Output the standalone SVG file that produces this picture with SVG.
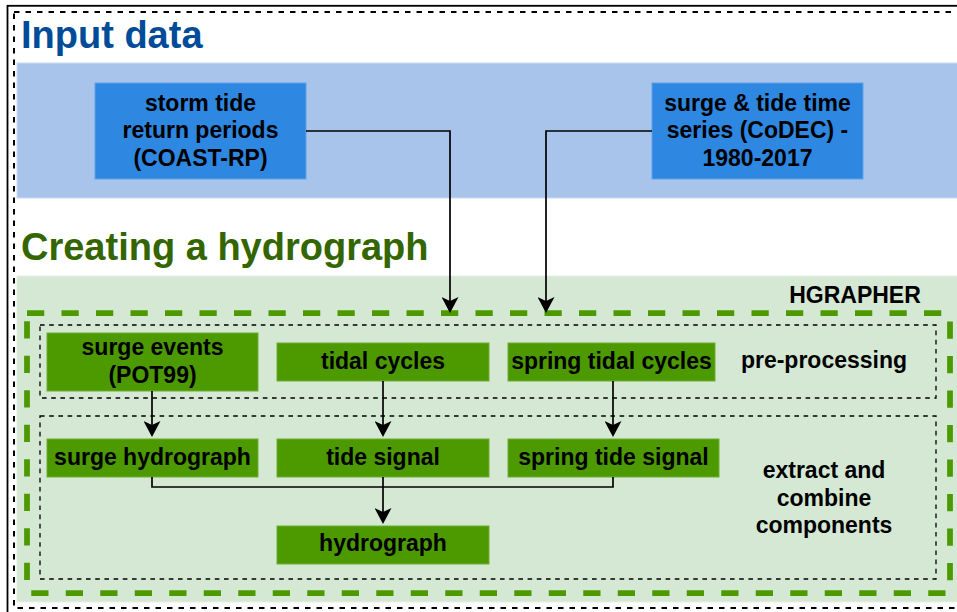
<svg xmlns="http://www.w3.org/2000/svg" width="957" height="612" viewBox="0 0 957 612">
<defs>
<style>
.t{font-family:"Liberation Sans",Arial,sans-serif;font-weight:bold;font-size:23px;fill:#000;text-anchor:middle}
.title{font-family:"Liberation Sans",Arial,sans-serif;font-weight:bold;font-size:38px}
.bn{fill:#2E87E0;stroke:#5FA2E8;stroke-width:1}
.gn{fill:#4D9900;stroke:#6FAE30;stroke-width:1}
.grp{fill:none;stroke:#000;stroke-width:1.3;stroke-dasharray:4.6 4.6}
.edge{fill:none;stroke:#000;stroke-width:1.7}
</style>
<marker id="arr" viewBox="0 0 16 17" refX="5" refY="8.5" markerWidth="16" markerHeight="17" markerUnits="userSpaceOnUse" orient="auto">
<path d="M0,0 L16,8.5 L0,17 L4,8.5 Z" fill="#000"/>
</marker>
</defs>
<rect x="0" y="0" width="957" height="612" fill="#fff"/>
<g id="frame">
<rect x="7.5" y="5.8" width="960" height="620" fill="none" stroke="#000" stroke-width="1.8"/>
<rect x="14" y="12" width="960" height="596" fill="none" stroke="#000" stroke-width="2" stroke-dasharray="5.5 6"/>
</g>
<g id="input-band">
<rect x="17" y="63" width="950" height="135" fill="#A9C4EB" stroke="#C9DBF4" stroke-width="1"/>
<text class="title" x="21" y="48" fill="#004C99">Input data</text>
</g>
<g id="hydro-band">
<rect x="17" y="276" width="950" height="326" fill="#D5E8D4" stroke="#E2EFE1" stroke-width="1"/>
<text class="title" x="21" y="260" fill="#336600">Creating a hydrograph</text>
</g>
<g id="hgrapher">
<rect x="27" y="313" width="923" height="280" fill="none" stroke="#4D9900" stroke-width="5.75" stroke-dasharray="17.25 17.25"/>
<text class="t" x="855" y="303">HGRAPHER</text>
</g>
<g id="pre-processing">
<rect class="grp" x="40" y="325" width="896" height="73"/>
<text class="t" x="824" y="368">pre-processing</text>
</g>
<g id="extract-combine">
<rect class="grp" x="40" y="416" width="896" height="163"/>
<text class="t" x="824"><tspan x="824" y="478">extract and</tspan><tspan x="824" y="505.5">combine</tspan><tspan x="824" y="533">components</tspan></text>
</g>
<g id="storm-tide">
<rect class="bn" x="95" y="83" width="211" height="96"/>
<text class="t"><tspan x="200.5" y="110.5">storm tide</tspan><tspan x="200.5" y="138">return periods</tspan><tspan x="200.5" y="165.5">(COAST-RP)</tspan></text>
</g>
<g id="surge-tide-series">
<rect class="bn" x="652" y="83" width="211" height="96"/>
<text class="t"><tspan x="757.5" y="110.5">surge &amp; tide time</tspan><tspan x="757.5" y="138">series (CoDEC) -</tspan><tspan x="757.5" y="165.5">1980-2017</tspan></text>
</g>
<g id="surge-events">
<rect class="gn" x="47" y="333" width="211" height="58"/>
<text class="t"><tspan x="152.5" y="355">surge events</tspan><tspan x="152.5" y="383">(POT99)</tspan></text>
</g>
<g id="tidal-cycles">
<rect class="gn" x="277" y="343" width="212" height="38"/>
<text class="t" x="383" y="368.5">tidal cycles</text>
</g>
<g id="spring-tidal-cycles">
<rect class="gn" x="508" y="343" width="207" height="38"/>
<text class="t" x="611.5" y="368.5">spring tidal cycles</text>
</g>
<g id="surge-hydrograph">
<rect class="gn" x="47" y="439" width="211" height="38"/>
<text class="t" x="152.5" y="465">surge hydrograph</text>
</g>
<g id="tide-signal">
<rect class="gn" x="277" y="439" width="212" height="38"/>
<text class="t" x="383" y="465">tide signal</text>
</g>
<g id="spring-tide-signal">
<rect class="gn" x="508" y="439" width="211" height="38"/>
<text class="t" x="613.5" y="465">spring tide signal</text>
</g>
<g id="hydrograph">
<rect class="gn" x="277" y="526" width="212" height="38"/>
<text class="t" x="383" y="551">hydrograph</text>
</g>
<g id="connectors">
<path class="edge" d="M306,131 H450 V302" marker-end="url(#arr)"/>
<path class="edge" d="M652,131 H546 V302" marker-end="url(#arr)"/>
<path class="edge" d="M152,391 V426" marker-end="url(#arr)"/>
<path class="edge" d="M383,381 V426" marker-end="url(#arr)"/>
<path class="edge" d="M613,381 V426" marker-end="url(#arr)"/>
<path class="edge" d="M152,477 V487 H383"/>
<path class="edge" d="M613,477 V487 H383"/>
<path class="edge" d="M383,477 V513" marker-end="url(#arr)"/>
</g>
</svg>
